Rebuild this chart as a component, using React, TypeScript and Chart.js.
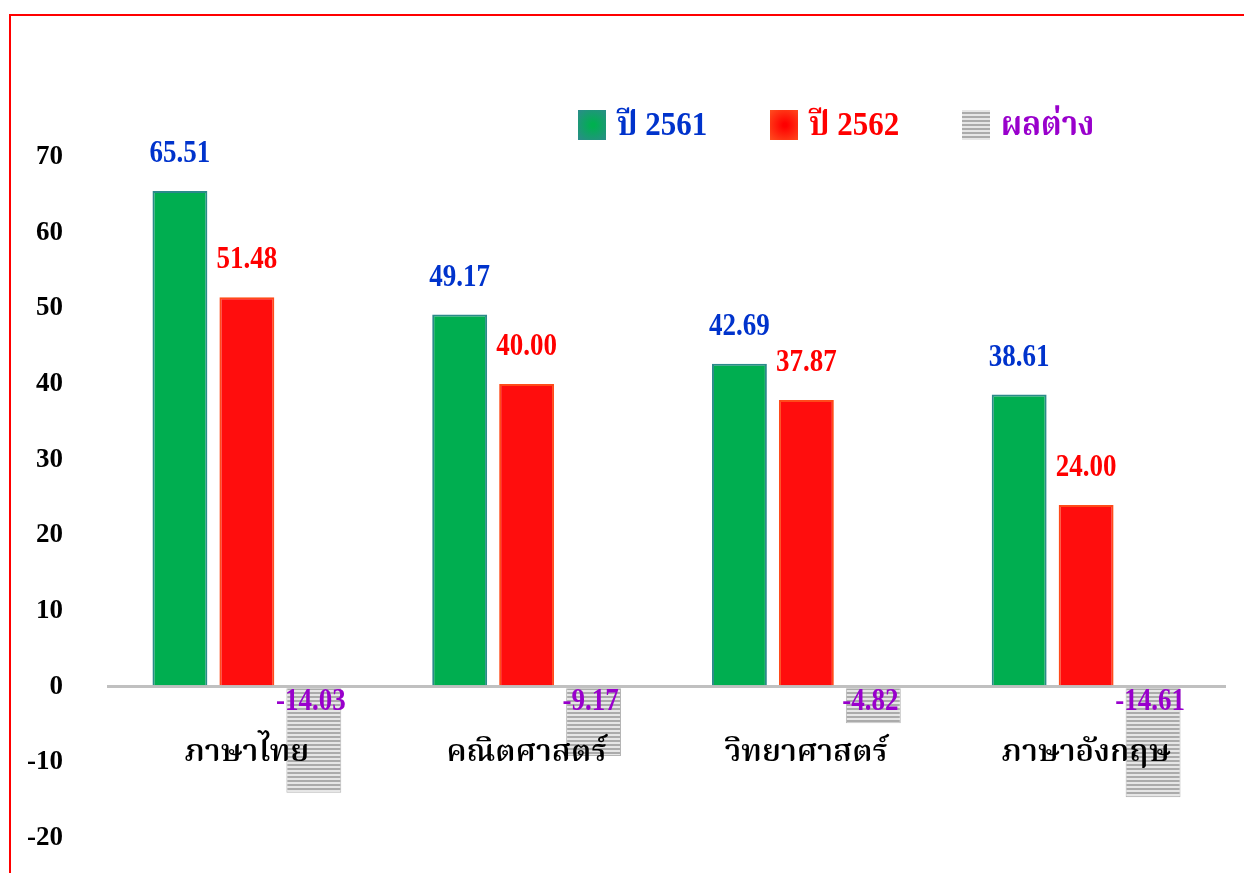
import React, { useEffect, useRef } from "react";
import { Chart, registerables } from "chart.js";

Chart.register(...registerables);

const categories = ["ภาษาไทย", "คณิตศาสตร์", "วิทยาศาสตร์", "ภาษาอังกฤษ"];
const seriesLabels = ["ปี 2561", "ปี 2562", "ผลต่าง"];
const year2561 = [65.51, 49.17, 42.69, 38.61];
const year2562 = [51.48, 40.0, 37.87, 24.0];
const difference = [-14.03, -9.17, -4.82, -14.61];
const yMin = -20;
const yMax = 70;
const yStep = 10;

const labelColors = ["#0033CC", "#FF0000", "#9900CC"];
const NUM_FONT = '"Liberation Serif", "Times New Roman", serif';
const THAI_FONT = '"Liberation Serif", "Noto Serif Thai", "Noto Sans Thai", Tahoma, Norasi, Loma, Garuda, serif';

function makeStripePattern(ctx: CanvasRenderingContext2D): CanvasPattern | string {
  const c = document.createElement("canvas");
  c.width = 4;
  c.height = 4;
  const p = c.getContext("2d");
  if (!p) return "#cccccc";
  p.fillStyle = "#e6e6e6";
  p.fillRect(0, 0, 4, 4);
  p.fillStyle = "#ababab";
  p.fillRect(0, 0, 4, 2);
  return ctx.createPattern(c, "repeat") || "#cccccc";
}

function drawStretchedText(
  ctx: CanvasRenderingContext2D,
  text: string,
  x: number,
  y: number,
  sy: number
) {
  ctx.save();
  ctx.translate(x, y);
  ctx.scale(1, sy);
  ctx.fillText(text, 0, 0);
  ctx.restore();
}

const labelsPlugin = {
  id: "customLabels",
  afterDraw(chart: any) {
    const ctx: CanvasRenderingContext2D = chart.ctx;
    const xs = chart.scales.x;
    const ys = chart.scales.y;
    const zeroY = ys.getPixelForValue(0);
    ctx.save();

    // category labels near the zero line
    ctx.fillStyle = "#000000";
    ctx.textAlign = "center";
    ctx.textBaseline = "middle";
    ctx.font = `600 31px ${THAI_FONT}`;
    categories.forEach((c, i) => {
      ctx.fillText(c, xs.getPixelForValue(i), zeroY + 66);
    });

    // value labels
    ctx.font = `bold 27px ${NUM_FONT}`;
    chart.data.datasets.forEach((ds: any, di: number) => {
      const meta = chart.getDatasetMeta(di);
      ctx.fillStyle = labelColors[di];
      meta.data.forEach((bar: any, i: number) => {
        const v = ds.data[i] as number;
        const txt = v.toFixed(2);
        if (v >= 0) {
          drawStretchedText(ctx, txt, bar.x, bar.y - 37, 1.2);
        } else {
          drawStretchedText(ctx, txt, bar.x - 3, zeroY + 15, 1.2);
        }
      });
    });

    // legend
    const legendX = [578, 770, 962];
    const legendY = 110;
    const box = 30;
    chart.data.datasets.forEach((ds: any, di: number) => {
      const lx = legendX[di];
      if (di === 0) {
        const g = ctx.createRadialGradient(lx + box / 2, legendY + box / 2, 2, lx + box / 2, legendY + box / 2, box * 0.72);
        g.addColorStop(0, "#00B050");
        g.addColorStop(1, "#2E8A8E");
        ctx.fillStyle = g;
      } else if (di === 1) {
        const g = ctx.createRadialGradient(lx + box / 2, legendY + box / 2, 2, lx + box / 2, legendY + box / 2, box * 0.72);
        g.addColorStop(0, "#FF0000");
        g.addColorStop(1, "#FF5020");
        ctx.fillStyle = g;
      } else {
        ctx.fillStyle = makeStripePattern(ctx);
      }
      ctx.fillRect(lx, legendY, box - 2, box);
      ctx.fillStyle = labelColors[di];
      ctx.textAlign = "left";
      ctx.textBaseline = "middle";
      ctx.font = `bold 31px ${THAI_FONT}`;
      drawStretchedText(ctx, ds.label, lx + box + 9, legendY + box / 2 + 1, 1.1);
    });

    ctx.restore();
  },
};

export default function App() {
  const ref = useRef<HTMLCanvasElement | null>(null);

  useEffect(() => {
    const canvas = ref.current;
    if (!canvas) return;
    const ctx = canvas.getContext("2d");
    if (!ctx) return;
    const stripes = makeStripePattern(ctx);

    const chart = new Chart(canvas, {
      type: "bar",
      data: {
        labels: categories,
        datasets: [
          {
            label: seriesLabels[0],
            data: year2561,
            backgroundColor: "#00AE50",
            borderColor: "#2B8A8A",
            borderWidth: 2,
          },
          {
            label: seriesLabels[1],
            data: year2562,
            backgroundColor: "#FF0D0D",
            borderColor: "#FF4A1A",
            borderWidth: 2,
          },
          {
            label: seriesLabels[2],
            data: difference,
            backgroundColor: stripes as any,
            borderColor: "#b5b5b5",
            borderWidth: 1,
          },
        ],
      },
      options: {
        responsive: false,
        animation: false,
        datasets: {
          bar: {
            categoryPercentage: 0.718,
            barPercentage: 0.82,
          },
        },
        layout: {
          padding: { top: 157, bottom: 35, right: 18, left: 27 },
        },
        plugins: {
          legend: { display: false },
          tooltip: { enabled: false },
        },
        scales: {
          x: {
            display: false,
          },
          y: {
            min: yMin,
            max: yMax,
            border: { display: false },
            afterFit: (scale: any) => {
              scale.width = 80;
              scale.paddingTop = 16;
              scale.paddingBottom = 16;
            },
            grid: {
              drawTicks: false,
              color: (c: any) => (c.tick && c.tick.value === 0 ? "#C0C0C0" : "rgba(0,0,0,0)"),
              lineWidth: (c: any) => (c.tick && c.tick.value === 0 ? 3 : 0),
            },
            ticks: {
              stepSize: yStep,
              padding: 44,
              color: "#000000",
              font: { family: NUM_FONT, size: 27, weight: "bold" },
            },
          },
        },
      },
      plugins: [labelsPlugin],
    });
    return () => chart.destroy();
  }, []);

  return (
    <div>
      <div
        style={{
          position: "fixed",
          left: 9,
          top: 14,
          right: -20,
          bottom: -20,
          border: "2px solid #FF0000",
          pointerEvents: "none",
        }}
      />
      <canvas
        ref={ref}
        width={1244}
        height={873}
        style={{ position: "fixed", left: 0, top: 0, display: "block" }}
      />
    </div>
  );
}
